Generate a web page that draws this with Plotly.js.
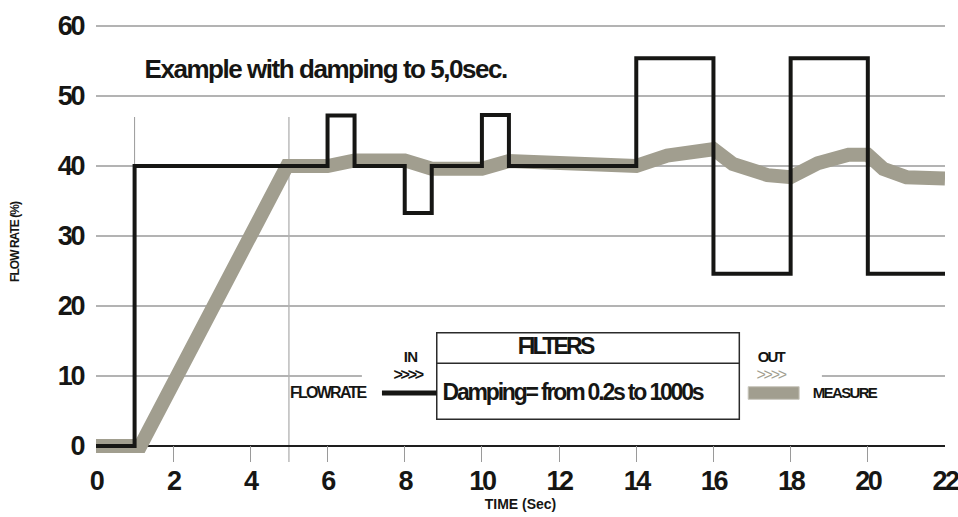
<!DOCTYPE html>
<html>
<head>
<meta charset="utf-8">
<script src="https://cdn.plot.ly/plotly-3.0.1.min.js"></script>
<style>
html,body{margin:0;padding:0;background:#fff;}
#chart{width:958px;height:517px;}
/* the reference uses tightly tracked Arial-style lettering */
#chart .xtick text, #chart .ytick text { letter-spacing: -0.09em; }
#chart .ytitle { letter-spacing: -0.08em; }
#chart g.annotation[data-index="0"] text { letter-spacing: -0.056em; }
#chart g.annotation[data-index="1"] text { letter-spacing: -0.12em; }
#chart g.annotation[data-index="2"] text { letter-spacing: -0.095em; }
#chart g.annotation[data-index="3"] text { letter-spacing: -0.11em; }
#chart g.annotation[data-index="4"] text { letter-spacing: -0.05em; }
#chart g.annotation[data-index="5"] text { letter-spacing: -0.14em; }
#chart g.annotation[data-index="6"] text { letter-spacing: -0.12em; }
#chart g.annotation[data-index="7"] text { letter-spacing: -0.14em; }
#chart g.annotation[data-index="8"] text { letter-spacing: -0.11em; }
</style>
</head>
<body>
<div id="chart"></div>
<script>
// ---- data ----
const inputTime  = [0, 1, 6, 6.7, 8, 8.7, 10, 10.7, 14, 16, 18, 20, 22];
const inputFlow  = [0, 40, 47.2, 40, 33.3, 40, 47.3, 40, 55.4, 24.6, 55.4, 24.6, 24.6];
const measureTime = [0, 1.15, 4.95, 6.0, 6.7, 8.0, 8.7, 10.0, 10.7, 12.0, 14.0, 14.8, 15.6, 16.0, 16.5, 17.4, 18.0, 18.7, 19.5, 20.0, 20.4, 21.0, 22];
const measureFlow = [0, 0, 40, 40, 40.8, 40.8, 39.6, 39.6, 40.7, 40.5, 40.0, 41.5, 42.3, 42.4, 40.3, 38.7, 38.4, 40.4, 41.6, 41.6, 39.6, 38.4, 38.2];
const xTicks = [0, 2, 4, 6, 8, 10, 12, 14, 16, 18, 20, 22];
const yTicks = [0, 10, 20, 30, 40, 50, 60];

const FONT = '"Liberation Sans", Arial, Helvetica, sans-serif';
const INK = '#161614';
const GREY = '#a19e8f';

const traces = [
  {x: measureTime, y: measureFlow, mode: 'lines', name: 'MEASURE',
   line: {color: GREY, width: 14}, hoverinfo: 'skip', showlegend: false},
  {x: inputTime, y: inputFlow, mode: 'lines', name: 'FLOWRATE',
   line: {color: INK, width: 4, shape: 'hv'}, hoverinfo: 'skip', showlegend: false}
];

function txt(text, x, y, size, opts) {
  return Object.assign({
    text: text, x: x, y: y, xref: 'x', yref: 'y', showarrow: false,
    font: {family: FONT, size: size, color: INK, weight: 700},
    xanchor: 'center', yanchor: 'middle'
  }, opts || {});
}

const layout = {
  width: 958, height: 517,
  margin: {l: 96, r: 13, t: 22, b: 55},
  paper_bgcolor: '#fff', plot_bgcolor: '#fff',
  showlegend: false,
  font: {family: FONT, color: INK},
  xaxis: {
    range: [0, 22], tickvals: xTicks, ticktext: xTicks.map(String),
    ticks: 'inside', ticklen: 16, tickwidth: 1, tickcolor: '#9a9a9a',
    showgrid: false, zeroline: false, showline: false,
    layer: 'below traces', ticklabeloverflow: 'allow',
    tickfont: {family: FONT, size: 27, color: INK, weight: 700},
    title: {text: 'TIME (Sec)', font: {family: FONT, size: 14, color: INK, weight: 700}, standoff: 4}
  },
  yaxis: {
    range: [-16/7, 424/7], tickvals: yTicks, ticktext: yTicks.map(String),
    ticks: '', showgrid: true, gridcolor: '#b3b3b3', gridwidth: 1.3,
    zeroline: true, zerolinecolor: '#1e1e1e', zerolinewidth: 1.3,
    showline: false, layer: 'below traces',
    tickfont: {family: FONT, size: 27, color: INK, weight: 700},
    ticklabelstandoff: 12,
    title: {text: 'FLOW RATE (%)', font: {family: FONT, size: 12, color: INK, weight: 700}, standoff: 30}
  },
  shapes: [
    // vertical reference lines at t=1 s and t=5 s
    {type: 'line', xref: 'x', yref: 'y', x0: 1, x1: 1, y0: 0, y1: 47, line: {color: '#9a9a9a', width: 1}, layer: 'below'},
    {type: 'line', xref: 'x', yref: 'y', x0: 5, x1: 5, y0: -16/7, y1: 47, line: {color: '#9a9a9a', width: 1}, layer: 'below'},
    // white band hiding gridline behind the diagram
    {type: 'rect', xref: 'x', yref: 'y', x0: 6.89, x1: 18.81, y0: 9.3, y1: 10.7, line: {width: 0}, fillcolor: '#ffffff', layer: 'above'},
    // filter box
    {type: 'rect', xref: 'x', yref: 'y', x0: 8.83, x1: 16.67, y0: 3.81, y1: 16.19, line: {color: '#2b2b2b', width: 1.5}, fillcolor: '#ffffff', layer: 'above'},
    {type: 'line', xref: 'x', yref: 'y', x0: 8.83, x1: 16.67, y0: 11.81, y1: 11.81, line: {color: '#2b2b2b', width: 1.5}, layer: 'above'},
    // input stub
    {type: 'line', xref: 'x', yref: 'y', x0: 7.41, x1: 8.83, y0: 7.57, y1: 7.57, line: {color: INK, width: 5}, layer: 'above'},
    // output swatch
    {type: 'rect', xref: 'x', yref: 'y', x0: 16.9, x1: 18.22, y0: 6.67, y1: 8.47, line: {color: '#c8c6bc', width: 1}, fillcolor: GREY, layer: 'above'}
  ],
  annotations: [
    txt('Example with damping to 5,0sec.', 5.95, 53.86, 26),
    txt('FILTERS', 11.89, 14.29, 23),
    txt('Damping= from 0.2s to 1000s', 12.36, 7.71, 23),
    txt('FLOWRATE', 6.0, 7.71, 16),
    txt('IN', 8.14, 12.75, 15),
    txt('&gt;&gt;&gt;&gt;', 8.08, 10.2, 16),
    txt('OUT', 17.49, 12.75, 15),
    txt('&gt;&gt;&gt;&gt;', 17.47, 10.2, 16, {font: {family: FONT, size: 16, color: GREY, weight: 400}}),
    txt('MEASURE', 19.4, 7.71, 15)
  ]
};

Plotly.newPlot('chart', traces, layout, {staticPlot: true, displayModeBar: false});
</script>
</body>
</html>
